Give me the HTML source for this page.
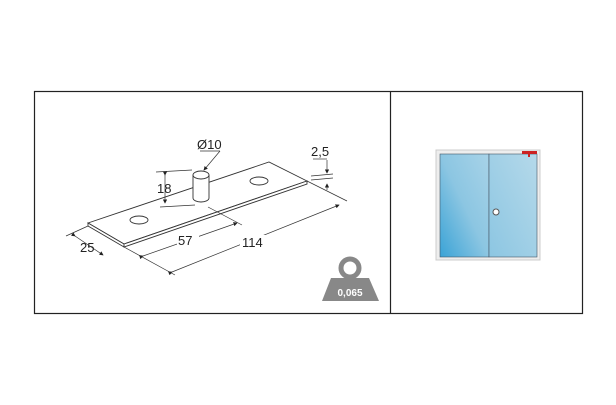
<!DOCTYPE html>
<html><head><style>body{margin:0;background:#fff}svg{display:block}</style></head><body>
<svg width="616" height="405" viewBox="0 0 616 405" xmlns="http://www.w3.org/2000/svg" font-family="Liberation Sans, sans-serif">
<defs>
<linearGradient id="g1" x1="0" y1="1" x2="1" y2="0"><stop offset="0" stop-color="#3aa3d6"/><stop offset="0.5" stop-color="#8cc6e2"/><stop offset="1" stop-color="#a8d3e8"/></linearGradient>
<linearGradient id="g2" x1="0" y1="1" x2="1" y2="0"><stop offset="0" stop-color="#8cc6e2"/><stop offset="1" stop-color="#b5d9ea"/></linearGradient>
<marker id="a" markerWidth="6" markerHeight="6" refX="5" refY="3" orient="auto"><path d="M0,0L6,3L0,6z" fill="#222"/></marker>
</defs>
<rect x="34.5" y="91.5" width="548" height="222" fill="none" stroke="#222" stroke-width="1.2"/>
<line x1="390.5" y1="91" x2="390.5" y2="313" stroke="#222" stroke-width="1.2"/>
<g stroke="#333" stroke-width="0.9" fill="#fff">
<polygon points="88,223 269,162 307,181 124,244"/>
<polygon points="88,223 124,244 124,247 88,226" />
<polygon points="124,244 307,181 307,184 124,247"/>
<ellipse cx="139" cy="220" rx="9" ry="4"/>
<ellipse cx="259" cy="181" rx="9" ry="4"/>
<path d="M193,175 L193,198 A8,4 0 0 0 209,198 L209,175"/>
<ellipse cx="201" cy="175" rx="8" ry="4"/>
</g>
<g stroke="#333" stroke-width="0.7" fill="none">
<line x1="156" y1="172" x2="192" y2="170"/><line x1="160" y1="207" x2="195" y2="205"/>
<line x1="165" y1="175" x2="165" y2="203" marker-start="url(#a)" marker-end="url(#a)"/>
<line x1="200" y1="151" x2="220" y2="151"/><line x1="220" y1="151" x2="204" y2="170" marker-end="url(#a)"/>
<line x1="313" y1="159" x2="327" y2="159"/><line x1="327" y1="160" x2="327" y2="173" marker-end="url(#a)"/><line x1="327" y1="190" x2="327" y2="184" marker-end="url(#a)"/>
<line x1="307" y1="181" x2="347" y2="201"/><line x1="311" y1="176" x2="333" y2="174"/><line x1="311" y1="180" x2="333" y2="178"/>
<line x1="208" y1="207" x2="242" y2="225"/>
<line x1="124" y1="247" x2="175" y2="275"/>
<line x1="88" y1="226" x2="66" y2="236"/>
<line x1="75" y1="236" x2="103" y2="255" marker-start="url(#a)" marker-end="url(#a)"/>
<line x1="143" y1="256" x2="237" y2="223" marker-start="url(#a)" marker-end="url(#a)"/>
<line x1="172" y1="272" x2="339" y2="205" marker-start="url(#a)" marker-end="url(#a)"/>
</g>
<g font-size="13" fill="#222">
<rect x="177" y="233" width="22" height="14" fill="#fff"/><text x="178" y="245">57</text>
<rect x="240" y="235" width="30" height="14" fill="#fff"/><text x="242" y="247">114</text>
<text x="80" y="252">25</text><text x="157" y="193">18</text>
<text x="197" y="149">Ø10</text><text x="311" y="156">2,5</text>
</g>
<circle cx="350" cy="268" r="9" fill="none" stroke="#888" stroke-width="5"/>
<polygon points="331,278 369,278 379,301 322,301" fill="#888"/>
<text x="350" y="296" font-size="10" font-weight="bold" fill="#fff" text-anchor="middle">0,065</text>
<rect x="436" y="150" width="104" height="110" fill="#eee" stroke="#ccc"/>
<rect x="440" y="154" width="49" height="103" fill="url(#g1)" stroke="#456" stroke-width="0.6"/>
<rect x="489" y="154" width="48" height="103" fill="url(#g2)" stroke="#456" stroke-width="0.6"/>
<rect x="522" y="151" width="15" height="3" fill="#c22"/><rect x="528" y="151" width="2" height="6" fill="#c22"/>
<circle cx="496" cy="212" r="3" fill="#fff" stroke="#555"/>
</svg>
</body></html>
